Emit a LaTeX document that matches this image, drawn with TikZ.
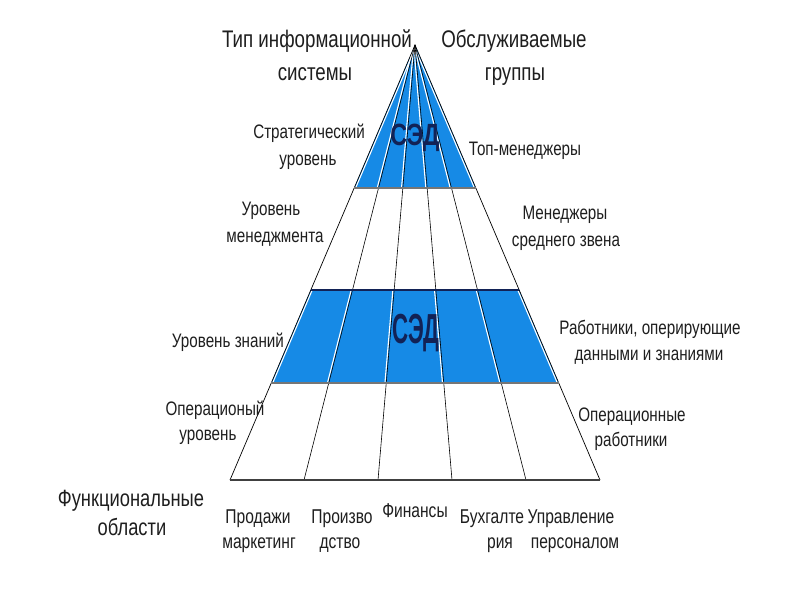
\documentclass[tikz,border=0pt]{standalone}
\usepackage{fontspec}
\usepackage{graphicx}
\setmainfont{Liberation Sans}
\newfontfamily\labfont[FakeStretch=0.78]{Liberation Sans}
\definecolor{bandblue}{RGB}{22,138,230}
\definecolor{sednavy}{RGB}{18,34,86}
\definecolor{bandgray}{RGB}{118,118,118}
\definecolor{inktext}{RGB}{30,30,30}
\begin{document}
\begin{tikzpicture}[x=1pt,y=-1pt,
  txt/.style={inner sep=0pt, anchor=base, text=inktext},
  ttl/.style={txt, font=\labfont\fontsize{24}{28}\selectfont},
  side/.style={txt, font=\labfont\fontsize{19.5}{24}\selectfont},
  bot/.style={txt, font=\labfont\fontsize{20}{24}\selectfont},
  sed/.style={inner sep=0pt, anchor=base, text=sednavy},
  edgeline/.style={draw=black, line width=0.7pt},
  divider/.style={draw=black, line width=0.6pt},
  glint/.style={draw=white, line width=1.1pt},
]
\useasboundingbox (0,0) rectangle (794,595);
\fill[white] (0,0) rectangle (794,595);
% geometry
\coordinate (A) at (415,45);
\coordinate (BL) at (230,480);
\coordinate (BR) at (600,480);
\coordinate (L1) at (354.2,188); \coordinate (R1) at (475.8,188);
\coordinate (L2) at (310.8,290); \coordinate (R2) at (519.2,290);
\coordinate (L3) at (271.3,383); \coordinate (R3) at (558.7,383);
\coordinate (D1) at (304,480);
\coordinate (D2) at (378,480);
\coordinate (D3) at (452,480);
\coordinate (D4) at (526,480);
% blue bands
\fill[bandblue] (A) -- (L1) -- (R1) -- cycle;
\fill[bandblue] (L2) -- (R2) -- (R3) -- (L3) -- cycle;
\begin{scope}
  \clip (A) -- (L1) -- (R1) -- cycle (L2) -- (R2) -- (R3) -- (L3) -- cycle;
  \foreach \d in {D1,D2,D3,D4} \draw[glint] ([xshift=-1.3pt]A) -- ([xshift=-1.3pt]\d);
  \draw[glint] ([xshift=1.4pt]A) -- ([xshift=1.4pt]BL);
  \draw[glint] ([xshift=-1.4pt]A) -- ([xshift=-1.4pt]BR);
\end{scope}
% dividers and edges
\foreach \d in {D1,D2,D3,D4} \draw[divider] (A) -- (\d);
\draw[edgeline] (BL) -- (A) -- (BR);
\draw[line width=2.6pt, bandgray] (L1) -- (R1);
\draw[line width=2.4pt, sednavy] (L2) -- (R2);
\draw[line width=2.6pt, bandgray] (L3) -- (R3);
\draw[line width=1.8pt, black!75] (BL) -- (BR);
% band texts
\node[sed, font=\bfseries\fontsize{30.7}{32}\selectfont] (sedtop) at (415,145) {\scalebox{0.76}[1]{СЭД}};
\node[sed, font=\bfseries\fontsize{42}{44}\selectfont] (sedmid) at (416,343) {\scalebox{0.53}[1]{СЭД}};
% headings
\node[ttl] (tis1) at (317,47) {Тип информационной};
\node[ttl] (tis2) at (315,80) {системы};
\node[ttl] (og1) at (514,47) {Обслуживаемые};
\node[ttl] (og2) at (515,80) {группы};
% left labels
\node[side] (su1) at (309,138) {Стратегический};
\node[side] (su2) at (308,165) {уровень};
\node[side] (um1) at (271,215) {Уровень};
\node[side] (um2) at (275,242) {менеджмента};
\node[side] (uz) at (228,347) {Уровень знаний};
\node[side] (ou1) at (215,415) {Операционый};
\node[side] (ou2) at (208,440) {уровень};
% right labels
\node[side] (tm) at (525,155) {Топ-менеджеры};
\node[side] (ms1) at (565,219) {Менеджеры};
\node[side] (ms2) at (566,246) {среднего звена};
\node[side] (ro1) at (650,334) {Работники, оперирующие};
\node[side] (ro2) at (649,360) {данными и знаниями};
\node[side] (or1) at (632,421) {Операционные};
\node[side] (or2) at (631,446) {работники};
% functional areas
\node[txt, font=\labfont\fontsize{23.5}{28}\selectfont] (fo1) at (131,506) {Функциональные};
\node[txt, font=\labfont\fontsize{23.5}{28}\selectfont] (fo2) at (132,535) {области};
\node[bot] (pm1) at (258,523) {Продажи};
\node[bot] (pm2) at (259,548) {маркетинг};
\node[bot] (pr1) at (342,523) {Произво};
\node[bot] (pr2) at (340,548) {дство};
\node[bot] (fin) at (415,517) {Финансы};
\node[bot] (bu1) at (492,523) {Бухгалте};
\node[bot] (bu2) at (500,548) {рия};
\node[bot] (up1) at (571,523) {Управление};
\node[bot] (up2) at (575,548) {персоналом};
\end{tikzpicture}
\end{document}
